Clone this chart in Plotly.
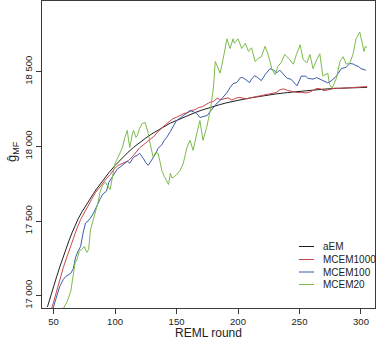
import plotly.graph_objects as go

# ---------------- data ----------------
aem_x = [45, 48, 50, 52.5, 55, 57.5, 60, 62.5, 65, 67.5, 70, 72.5, 75, 77.5, 80, 82.5, 85,
         87.5, 90, 95, 100, 105, 110, 115, 120, 125, 130, 135, 140, 145, 150, 155, 160, 165,
         170, 175, 180, 185, 190, 195, 200, 210, 220, 230, 240, 250, 260, 270, 280, 290,
         300, 305]
aem_y = [16925, 17000, 17058, 17127, 17192, 17254, 17312, 17368, 17421, 17470, 17515, 17553,
         17588, 17622, 17654, 17685, 17715, 17744, 17772, 17824, 17872, 17916, 17956, 17993,
         18026, 18056, 18084, 18110, 18134, 18156, 18173, 18192, 18210, 18226, 18241, 18255,
         18267, 18279, 18290, 18300, 18308, 18324, 18338, 18350, 18360, 18369, 18376, 18383,
         18388, 18390, 18393, 18395]

m1000_x = [48, 50, 52, 55, 58, 60, 63, 66, 69, 72, 75, 78, 81, 84, 87, 90, 93, 96, 99, 102,
           105, 108, 111, 114, 117, 120, 123, 126, 129, 132, 135, 138, 141, 144, 147, 150,
           153, 156, 159, 162, 165, 168, 171, 174, 177, 180, 183, 186, 189, 192, 195, 198,
           201, 204, 207, 210, 213, 216, 219, 222, 225, 228, 231, 234, 237, 240, 243, 246,
           249, 252, 255, 258, 261, 264, 267, 270, 273, 276, 279, 282, 285, 288, 291, 294,
           297, 300, 303, 305]
m1000_y = [16900, 16960, 17020, 17110, 17190, 17240, 17310, 17390, 17450, 17510, 17560, 17600,
           17645, 17690, 17720, 17755, 17785, 17810, 17845, 17870, 17880, 17895, 17905, 17930,
           17960, 17990, 18010, 18030, 18045, 18070, 18100, 18125, 18145, 18165, 18185, 18195,
           18210, 18220, 18225, 18240, 18245, 18260, 18265, 18280, 18295, 18300, 18322, 18312,
           18318, 18325, 18310, 18322, 18328, 18322, 18318, 18325, 18330, 18338, 18342, 18345,
           18350, 18355, 18360, 18378, 18385, 18375, 18372, 18365, 18360, 18362, 18358, 18362,
           18375, 18388, 18385, 18372, 18378, 18385, 18390, 18388, 18390, 18392, 18390, 18393,
           18395, 18400, 18398, 18400]

m100_x = [49, 52, 55, 58, 60, 62, 64, 66, 68, 70, 72, 74, 76, 78, 80, 82.5, 85, 88, 90, 93,
          95, 98, 100, 102, 104, 107, 110, 112, 115, 118, 120, 123, 125, 127, 129, 131, 133,
          135, 138, 140, 142, 145, 147, 150, 153, 156, 158.5, 161, 164, 166.5, 169, 172, 175,
          177, 180, 183, 185.5, 188, 191, 193.5, 196, 199, 202, 204, 207, 209.5, 211, 213.5,
          216, 219, 222, 226, 229, 231.5, 234, 237, 240, 243, 246, 248, 251.5, 255, 257, 261,
          264, 268, 270, 273, 276, 280, 284, 288, 291, 294, 296, 298, 300, 302, 304]
m100_y = [16900, 16990, 17062, 17110, 17130, 17140, 17150, 17180, 17260, 17300, 17330, 17420,
          17487, 17500, 17520, 17553, 17600, 17650, 17680, 17700, 17760, 17800, 17820, 17850,
          17860, 17880, 17900, 17887, 17927, 17940, 17953, 17920, 17890, 17873, 17900, 17927,
          17950, 17987, 18010, 18040, 18060, 18100, 18130, 18173, 18190, 18210, 18227, 18240,
          18230, 18220, 18193, 18200, 18207, 18230, 18260, 18290, 18307, 18330, 18360, 18393,
          18420, 18427, 18460, 18460, 18440, 18427, 18450, 18473, 18460, 18440, 18480, 18520,
          18510, 18493, 18510, 18480, 18455, 18450, 18420, 18405, 18470, 18470, 18455, 18450,
          18460, 18445, 18435, 18425, 18440, 18470, 18520, 18530, 18555, 18550, 18540, 18535,
          18520, 18515, 18510]

m20_x = [57, 59.5, 61, 64, 66, 67.5, 69, 71, 73, 75, 77, 78.5, 80, 82, 84, 86, 88, 90, 92,
         94, 96, 98, 100, 102, 104, 106, 108, 110, 111, 112, 114, 115, 117, 118, 120, 122,
         124.5, 126, 127, 128.5, 130, 131, 133, 135, 136.5, 138, 140, 142, 143.5, 145, 146,
         147.5, 150, 153, 155.5, 157, 158.5, 161, 163.5, 166.5, 169, 171.5, 174.5, 177.5,
         180, 181.5, 184, 185.5, 188, 191, 193.5, 196, 197, 200, 203, 206, 208.5, 211, 214,
         216.5, 219, 222, 224.5, 227.5, 230, 232.5, 235, 238, 241, 245, 247.5, 250.5, 253,
         256, 258.5, 261, 264, 266.5, 269, 273, 274.5, 276.5, 280, 283, 285.5, 288, 291,
         293.5, 296, 299, 302.5, 303.5, 305]
m20_y = [16900, 16940, 16960, 17030, 17130, 17220, 17240, 17300, 17310, 17330, 17290, 17310,
         17440, 17500, 17573, 17620, 17700, 17740, 17760, 17730, 17710, 17800, 17887, 17920,
         17950, 17990, 18060, 18107, 18040, 17993, 18080, 18107, 18060, 18070, 18120, 18153,
         18160, 18120, 18087, 18020, 17960, 17927, 17960, 17953, 17900, 17840, 17800, 17773,
         17745, 17820, 17790, 17793, 17810, 17840, 17887, 17940, 17993, 18040, 17973, 18087,
         18173, 18040, 18127, 18240, 18393, 18568, 18520, 18490, 18590, 18720, 18655, 18720,
         18690, 18720, 18655, 18690, 18635, 18660, 18568, 18590, 18600, 18670, 18615, 18520,
         18480, 18535, 18560, 18615, 18590, 18550, 18615, 18680, 18580, 18560, 18615, 18520,
         18580, 18620, 18470, 18490, 18415, 18390, 18455, 18570, 18600, 18550, 18560, 18615,
         18720, 18765, 18635, 18670, 18660]

series_names = ["aEM", "MCEM1000", "MCEM100", "MCEM20"]
series_colors = ["#1e1e1e", "#c9474b", "#3b5ca6", "#7cbb4c"]
series_x = [aem_x, m1000_x, m100_x, m20_x]
series_y = [aem_y, m1000_y, m100_y, m20_y]

x_ticks = [50, 100, 150, 200, 250, 300]
y_ticks = [17000, 17500, 18000, 18500]
y_tick_text = ["17 000", "17 500", "18 000", "18 500"]

x_title = "REML round"
y_title = "ĝ<sub>MF</sub>"

# ---------------- figure ----------------
W, H = 378, 342
L, R, T, B = 42, 3, 1, 34

fig = go.Figure()
for name, col, xs, ys in zip(series_names, series_colors, series_x, series_y):
    fig.add_trace(go.Scatter(x=xs, y=ys, mode="lines", name=name,
                             line=dict(color=col, width=1), showlegend=False,
                             hoverinfo="skip"))

font_family = "Liberation Sans, Arial, sans-serif"
axis_col = "#3a3a3a"

fig.update_layout(
    width=W, height=H,
    margin=dict(l=L, r=R, t=T, b=B, pad=0),
    paper_bgcolor="white", plot_bgcolor="white",
    font=dict(family=font_family, size=10, color="#222"),
    showlegend=False,
)
fig.update_xaxes(range=[40.6, 311.4], tickvals=x_ticks, ticks="outside", ticklen=5,
                 tickcolor=axis_col, tickwidth=1, showline=True, mirror=True,
                 linecolor=axis_col, linewidth=1, showgrid=False, zeroline=False,
                 tickfont=dict(size=9.5, color="#222"))
fig.update_yaxes(range=[16918, 18973], tickvals=y_ticks, ticktext=y_tick_text,
                 ticks="outside", ticklen=5, tickcolor=axis_col, tickwidth=1,
                 showline=True, mirror=True, linecolor=axis_col, linewidth=1,
                 showgrid=False, zeroline=False, tickangle=-90,
                 tickfont=dict(size=9.5, color="#222"))

plot_h = H - T - B
plot_w = W - L - R

def px_to_paper_x(px):
    return (px - L) / plot_w

def px_to_paper_y(py):
    return (H - B - py) / plot_h

# axis titles
fig.add_annotation(text=x_title, xref="paper", yref="paper",
                   x=px_to_paper_x((L + W - R) / 2), y=px_to_paper_y(333),
                   xanchor="center", yanchor="middle", showarrow=False,
                   font=dict(size=12, color="#222"))
fig.add_annotation(text=y_title, xref="paper", yref="paper",
                   x=px_to_paper_x(12), y=px_to_paper_y(152),
                   xanchor="center", yanchor="middle", showarrow=False, textangle=-90,
                   font=dict(size=13, color="#222"))

# legend (drawn manually to match the compact spacing)
leg_rows = [246.5, 259.5, 272, 284.5]
for name, col, py in zip(series_names, series_colors, leg_rows):
    fig.add_shape(type="line", xref="paper", yref="paper",
                  x0=px_to_paper_x(299), x1=px_to_paper_x(314),
                  y0=px_to_paper_y(py), y1=px_to_paper_y(py),
                  line=dict(color=col, width=1))
    fig.add_annotation(text=name, xref="paper", yref="paper",
                       x=px_to_paper_x(321), y=px_to_paper_y(py),
                       xanchor="left", yanchor="middle", showarrow=False,
                       font=dict(size=10, color="#222"))

fig.write_html("out.html")
